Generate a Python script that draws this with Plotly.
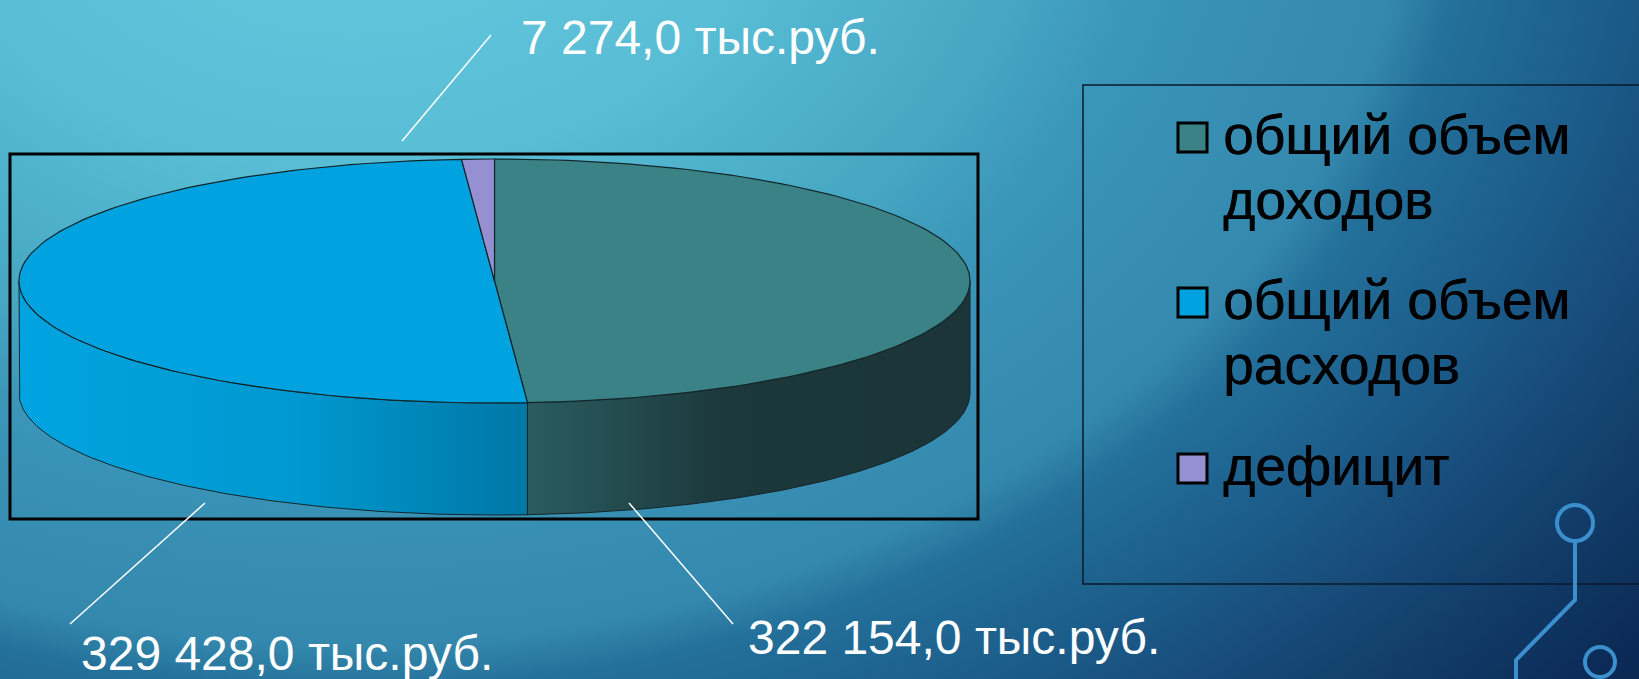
import base64
import numpy as np
import plotly.graph_objects as go

# ---------------- data ----------------
categories = ["общий объем доходов", "общий объем расходов", "дефицит"]
legend_lines = [["общий объем", "доходов"], ["общий объем", "расходов"], ["дефицит"]]
values = [322154.0, 329428.0, 7274.0]
units = "тыс.руб."

# ---------------- style ----------------
top_colors = ["#3a8285", "#00a2e0", "#9490d2"]
side_scales = [
    [[0, "#2a5c60"], [0.45, "#1c383b"], [1, "#1b3538"]],
    [[0, "#00a4e0"], [0.55, "#0098cf"], [1, "#0077a5"]],
    [[0, "#7a76b8"], [1, "#6a66a8"]],
]
W, H = 1639, 679
CX, CY, RX, RY, THICK = 494.5, 281.0, 475.5, 122.0, 112.0
FONT = "Liberation Sans, Arial, sans-serif"


def fmt(v):
    s = f"{v:,.1f}".replace(",", " ").replace(".", ",")
    return f"{s} {units}"


def arc(a0, a1, dy=0.0, n=120):
    t = np.radians(np.linspace(a0, a1, n))
    return CX + RX * np.sin(t), CY - RY * np.cos(t) + dy


fig = go.Figure()

total = sum(values)
spans = []
start = 0.0
for v in values:
    a1 = start + 360.0 * v / total
    spans.append((start, a1))
    start = a1

# side walls (front half only: 90..270 degrees, clockwise from 12 o'clock)
for i, (a0, a1) in enumerate(spans):
    lo, hi = max(a0, 90.0), min(a1, 270.0)
    if hi <= lo:
        continue
    xt, yt = arc(lo, hi)
    xb, yb = arc(hi, lo, dy=THICK)
    xs = np.concatenate([xt, xb, xt[:1]])
    ys = np.concatenate([yt, yb, yt[:1]])
    fig.add_trace(go.Scatter(
        x=xs, y=ys, mode="lines", fill="toself",
        line=dict(color="#13262a", width=1),
        fillcolor=top_colors[i],
        fillgradient=dict(type="horizontal", colorscale=side_scales[i],
                          start=float(xs.min()), stop=float(xs.max())),
        hoverinfo="skip", showlegend=False,
    ))

# top faces
for i, (a0, a1) in enumerate(spans):
    xt, yt = arc(a0, a1)
    xs = np.concatenate([[CX], xt, [CX]])
    ys = np.concatenate([[CY], yt, [CY]])
    fig.add_trace(go.Scatter(
        x=xs, y=ys, mode="lines", fill="toself",
        line=dict(color="#13262a", width=1.2),
        fillcolor=top_colors[i],
        name=categories[i], hoverinfo="name", showlegend=False,
    ))

# ---------------- background ----------------
stops = [(0.0, "#68cbe0"), (0.25, "#58bdd5"), (0.41, "#45a5c2"),
         (0.483, "#3a95b8"), (0.623, "#3488ad"), (0.66, "#23709a"),
         (0.76, "#1b5a88"), (0.826, "#174a78"), (0.98, "#0b2a55"),
         (1.0, "#0a2852")]
stop_xml = "".join(f'<stop offset="{o}" stop-color="{c}"/>' for o, c in stops)
svg = (f'<svg xmlns="http://www.w3.org/2000/svg" width="{W}" height="{H}" '
       f'viewBox="0 0 {W} {H}" preserveAspectRatio="none">'
       '<defs><radialGradient id="g" gradientUnits="userSpaceOnUse" cx="0" cy="0" r="1" '
       'gradientTransform="translate(350,-150) scale(1700,1275)">'
       f'{stop_xml}</radialGradient></defs>'
       f'<rect x="0" y="0" width="{W}" height="{H}" fill="url(#g)"/></svg>')
bg_src = "data:image/svg+xml;base64," + base64.b64encode(svg.encode("utf-8")).decode("ascii")

shapes = []
# chart frame
shapes.append(dict(type="rect", xref="x", yref="y", x0=10, y0=154, x1=978, y1=519,
                   line=dict(color="#000000", width=3), fillcolor="rgba(0,0,0,0)", layer="below"))
# legend box
shapes.append(dict(type="rect", xref="x", yref="y", x0=1083, y0=85, x1=1660, y1=584,
                   line=dict(color="#0a1a28", width=1.5), fillcolor="rgba(0,0,0,0)", layer="below"))

annotations = []
# data labels with leader lines
label_pos = [(954, 637), (287, 653), (700, 37)]
leaders = [((629, 503), (733, 624)), ((205, 503), (70, 624)), ((402, 141), (491, 35))]
for i, v in enumerate(values):
    (x0, y0), (x1, y1) = leaders[i]
    shapes.append(dict(type="line", xref="x", yref="y", x0=x0, y0=y0, x1=x1, y1=y1,
                       line=dict(color="#ffffff", width=1.5)))
    annotations.append(dict(x=label_pos[i][0], y=label_pos[i][1], xref="x", yref="y",
                            text=fmt(v), showarrow=False, xanchor="center", yanchor="middle",
                            font=dict(family=FONT, size=48, color="#ffffff")))

# legend (drawn manually to match the large slide legend)
baselines = [[152, 217], [317, 382], [483]]
for i, lines in enumerate(legend_lines):
    b0 = baselines[i][0]
    shapes.append(dict(type="rect", xref="x", yref="y", x0=1178, y0=b0 - 29, x1=1207, y1=b0,
                       line=dict(color="#000000", width=3), fillcolor=top_colors[i]))
    for j, txt in enumerate(lines):
        annotations.append(dict(x=1221, y=baselines[i][j] - 17, xref="x", yref="y",
                                text=txt, showarrow=False, xanchor="left", yanchor="middle",
                                font=dict(family=FONT, size=55, color="#000000",
                                          shadow="0.6px 0 0 #000")))

# decorative circuit lines (slide theme)
deco = "#3a8fcc"
shapes.append(dict(type="circle", xref="x", yref="y", x0=1557, y0=505, x1=1593, y1=541,
                   line=dict(color=deco, width=4)))
shapes.append(dict(type="path", xref="x", yref="y", path="M1575,541 L1575,600 L1516,660 L1516,690",
                   line=dict(color=deco, width=4)))
shapes.append(dict(type="circle", xref="x", yref="y", x0=1585, y0=647, x1=1615, y1=677,
                   line=dict(color=deco, width=4)))

fig.update_layout(
    width=W, height=H,
    margin=dict(l=0, r=0, t=0, b=0),
    paper_bgcolor="#0b2a55",
    plot_bgcolor="rgba(0,0,0,0)",
    xaxis=dict(range=[0, W], visible=False, fixedrange=True),
    yaxis=dict(range=[H, 0], visible=False, fixedrange=True),
    images=[dict(source=bg_src, xref="paper", yref="paper", x=0, y=1, sizex=1, sizey=1,
                 xanchor="left", yanchor="top", sizing="stretch", layer="below")],
    shapes=shapes,
    annotations=annotations,
    showlegend=False,
)

fig.write_html(
    "out.html",
    config={"displayModeBar": False},
    post_script="document.body.style.margin='0';document.body.style.overflow='hidden';",
)
